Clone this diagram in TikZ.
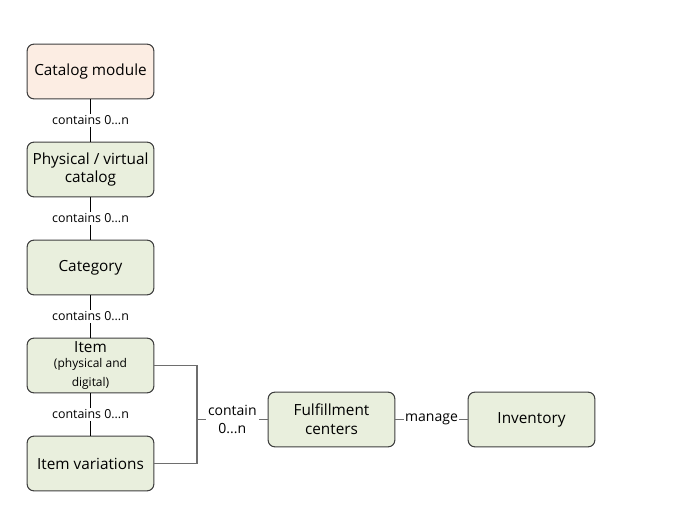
\documentclass[tikz,border=0pt]{standalone}
\usepackage{fontspec}
\setmainfont{Open Sans}
\usetikzlibrary{calc}
\definecolor{peach}{HTML}{FCEDE3}
\definecolor{sage}{HTML}{E9EFDD}
\definecolor{edge}{HTML}{3F3F3F}
\definecolor{wire}{HTML}{6E6E6E}
\newcommand{\smalltxt}{\fontsize{9}{10.5}\selectfont}
\tikzset{
  entity/.style={draw=edge, line width=0.8pt, rounded corners=5pt, fill=sage,
    minimum width=95pt, minimum height=41pt, align=center, inner sep=1pt,
    font=\fontsize{11.5}{14}\selectfont},
  rel/.style={fill=white, inner sep=1.5pt, align=center, font=\fontsize{9.3}{11}\selectfont},
  link/.style={draw=black, line width=0.6pt}
}

\begin{document}
\begin{tikzpicture}[x=0.75pt, y=-0.75pt]
		%%%%% START %%%%%
		\useasboundingbox (0, 0) rectangle (700, 530);
		
		\node[entity, fill=peach] (module) at (90.5, 71.5) {Catalog module};
		\node[entity] (catalog) at (90.5, 169.5) {Physical / virtual\\catalog};
		\node[entity] (category) at (90.5, 267.5) {Category};
		\node[entity] (item) at (90.5, 365.5) {Item\\[-3pt]\smalltxt (physical and\\\smalltxt digital)};
		\node[entity] (variation) at (90.5, 463.5) {Item variations};
		
		\node[entity] (center) at (331.5, 419.5) {Fulfillment\\centers};
		\node[entity] (stock) at (531.5, 419.5) {Inventory};
		
		\draw[link] (module) -- (catalog) node[rel, midway] {contains 0...n};
		\draw[link] (catalog) -- (category) node[rel, midway] {contains 0...n};
		\draw[link] (category) -- (item) node[rel, midway] {contains 0...n};
		\draw[link] (item) -- (variation) node[rel, midway] {contains 0...n};
		
		\coordinate (join) at (197, 419.5);
		\draw[link, draw=wire, line width=0.9pt] (item.east) -| (join) |- (variation.east);
		\draw[link, draw=wire, line width=0.9pt] (join) -- (center.west) node[rel, midway, font=\fontsize{10.5}{14}\selectfont] {contain\\0...n};
		\draw[link, draw=wire, line width=0.9pt] (center.east) -- (stock.west) node[rel, midway, inner sep=0.5pt, font=\fontsize{10.5}{11}\selectfont] {manage};
		
		%%%%% END %%%%%
	\end{tikzpicture}
\end{document}
